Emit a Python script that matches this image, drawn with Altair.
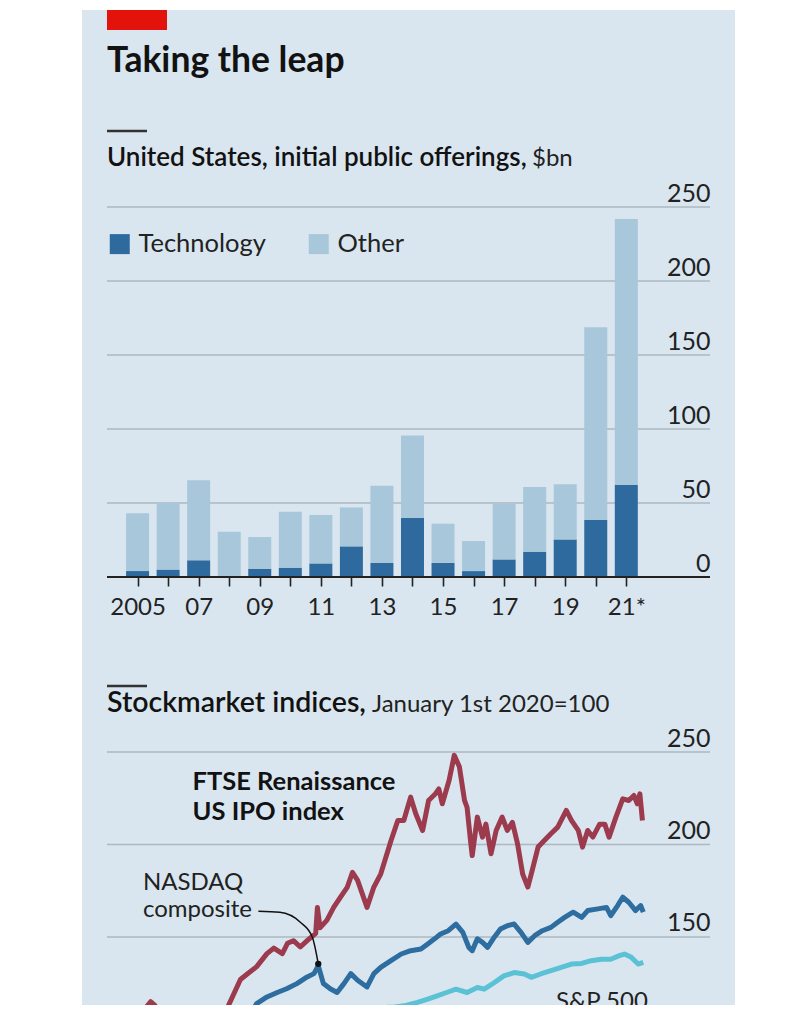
import altair as alt
import pandas as pd

FONT = "Lato"
BG = "#d9e6ef"
RED = "#e3120b"
TECH_C = "#2e6a9e"
OTHER_C = "#a9c7db"
GRID_C = "#adb8c0"
DARK = "#1a1a1a"
FTSE_C = "#9c3a4e"
NASDAQ_C = "#2e6da0"
SP_C = "#5bc2d6"

# ---------------- IPO data ($bn) ----------------
years = list(range(2005, 2022))
tech = [4.0, 5.0, 11.3, 0.7, 5.6, 6.3, 9.2, 20.7, 9.5, 40.0, 9.5, 4.0, 11.9, 17.1, 25.4, 38.5, 62.3]
other = [39.0, 45.0, 54.0, 29.9, 21.4, 37.8, 32.7, 26.3, 52.2, 55.6, 26.5, 20.3, 37.6, 43.7, 37.2, 130.3, 179.6]
year_labels = {2005: "2005", 2007: "07", 2009: "09", 2011: "11", 2013: "13",
               2015: "15", 2017: "17", 2019: "19", 2021: "21*"}
ipo_ticks = [0, 50, 100, 150, 200, 250]

# ---------------- Index data (Jan 1st 2020 = 100) ----------------
ftse_dates = ["2020-01-01", "2020-01-15", "2020-02-03", "2020-02-14", "2020-02-21", "2020-02-26", "2020-03-02",
              "2020-03-09", "2020-03-18", "2020-03-23", "2020-04-03", "2020-04-15", "2020-04-29", "2020-05-13",
              "2020-05-22", "2020-06-05", "2020-06-13", "2020-06-24", "2020-07-06", "2020-07-14", "2020-07-24",
              "2020-07-30", "2020-08-06", "2020-08-14", "2020-08-22", "2020-09-01", "2020-09-03", "2020-09-06",
              "2020-09-14", "2020-09-22", "2020-09-30", "2020-10-08", "2020-10-14", "2020-10-20", "2020-10-31",
              "2020-11-08", "2020-11-16", "2020-11-28", "2020-12-06", "2020-12-13", "2020-12-21", "2020-12-27",
              "2021-01-04", "2021-01-11", "2021-01-19", "2021-01-23", "2021-01-27", "2021-02-04", "2021-02-10",
              "2021-02-16", "2021-02-22", "2021-02-25", "2021-03-01", "2021-03-03", "2021-03-09", "2021-03-15",
              "2021-03-19", "2021-03-25", "2021-03-31", "2021-04-07", "2021-04-13", "2021-04-19", "2021-04-25",
              "2021-05-01", "2021-05-07", "2021-05-11", "2021-05-19", "2021-05-26", "2021-06-03", "2021-06-11",
              "2021-06-21", "2021-06-27", "2021-07-05", "2021-07-10", "2021-07-16", "2021-07-22", "2021-07-30",
              "2021-08-05", "2021-08-10", "2021-08-18", "2021-08-26", "2021-09-02", "2021-09-08", "2021-09-12",
              "2021-09-15", "2021-09-18"]
ftse_vals = [100, 104, 105, 111, 115, 113, 104,
             92, 76, 74, 80, 92, 100, 104,
             113, 127, 130, 134, 141, 144, 141,
             146.6, 148, 144.6, 148, 152, 166, 155,
             159, 166, 171.6, 177, 185, 180.6, 166,
             177, 184, 202, 213, 213, 225.6, 216.6,
             207.6, 223.8, 227.4, 230, 222, 234.7, 248.2,
             242, 223.8, 220, 202, 194, 214.8, 204,
             211, 195, 207.6, 214.8, 207.6, 212, 200.4,
             184, 177, 184, 198.6, 202, 205.8, 209.4,
             218.4, 213, 207.6, 198.6, 207.6, 204, 211,
             211, 204, 214.8, 224.7, 223.8, 226.5, 222,
             227.4, 213]

nasdaq_dates = ["2020-01-01", "2020-01-17", "2020-02-19", "2020-02-28", "2020-03-09", "2020-03-16", "2020-03-23",
                "2020-04-08", "2020-04-21", "2020-05-08", "2020-05-20", "2020-06-08", "2020-06-11", "2020-06-24",
                "2020-07-06", "2020-07-18", "2020-07-29", "2020-08-10", "2020-08-22", "2020-08-30", "2020-09-04",
                "2020-09-10", "2020-09-18", "2020-09-26", "2020-10-04", "2020-10-12", "2020-10-20", "2020-10-31",
                "2020-11-08", "2020-11-16", "2020-11-28", "2020-12-10", "2020-12-21", "2021-01-02", "2021-01-10",
                "2021-01-18", "2021-01-25", "2021-02-03", "2021-02-12", "2021-02-20", "2021-02-27", "2021-03-03",
                "2021-03-09", "2021-03-15", "2021-03-21", "2021-03-29", "2021-04-05", "2021-04-13", "2021-04-21",
                "2021-04-29", "2021-05-07", "2021-05-15", "2021-05-24", "2021-06-03", "2021-06-11", "2021-06-19",
                "2021-06-29", "2021-07-09", "2021-07-16", "2021-07-28", "2021-08-07", "2021-08-12", "2021-08-20",
                "2021-08-26", "2021-09-02", "2021-09-10", "2021-09-16", "2021-09-19"]
nasdaq_vals = [100, 104, 110.5, 99, 88, 78, 76.5,
               91, 93, 102, 105, 111, 104, 114,
               117.6, 120, 122, 124.8, 128.4, 130.2, 134.5,
               124.8, 122, 120, 124.8, 130.2, 126.6, 123,
               130.2, 133.6, 137.2, 140.8, 142.6, 143.5, 146.2,
               149, 151.6, 153.4, 157, 152.5, 144.4, 142.6,
               149, 147.1, 144.4, 150, 154.3, 156.1, 157,
               152.5, 147.1, 150.7, 153.4, 155.2, 158, 160.6,
               163.4, 160.6, 164.3, 165.2, 166, 161.5, 167,
               171.5, 168.8, 164.3, 167, 163.4]

sp_dates = ["2020-01-01", "2020-02-19", "2020-03-02", "2020-03-23", "2020-04-09", "2020-04-21", "2020-05-15",
            "2020-06-08", "2020-06-26", "2020-07-15", "2020-08-14", "2020-09-02", "2020-09-23", "2020-10-12",
            "2020-10-30", "2020-11-09", "2020-11-24", "2020-12-01", "2020-12-13", "2020-12-29", "2021-01-10",
            "2021-01-21", "2021-02-01", "2021-02-12", "2021-02-25", "2021-03-09", "2021-03-17", "2021-03-29",
            "2021-04-09", "2021-04-21", "2021-05-03", "2021-05-11", "2021-05-22", "2021-06-03", "2021-06-15",
            "2021-06-27", "2021-07-09", "2021-07-20", "2021-08-01", "2021-08-12", "2021-08-22", "2021-08-28",
            "2021-09-05", "2021-09-13", "2021-09-19"]
sp_vals = [100, 105, 95, 69, 86, 82, 89,
           99.6, 93, 99, 104.5, 110.5, 101.5, 108.5,
           101, 109, 112, 112, 112.8, 114.6, 116.4,
           118.2, 120, 121.8, 120, 122.7, 121.8, 125.4,
           129, 130.8, 130, 128.2, 130, 131.8, 133.6,
           135.4, 135.7, 137.2, 138, 138, 139.9, 140.8,
           139, 135.4, 136.3]

idx_ticks = [150, 200, 250]
idx_domain = [113.24, 250]
date_domain = ["2020-01-01", "2021-12-06"]

# connector from the "NASDAQ composite" label to the September 2020 peak
conn_dates = ["2020-06-26", "2020-07-21", "2020-08-14", "2020-08-28", "2020-09-04"]
conn_vals = [163.9, 163.4, 158, 150, 135.5]

W = 603
H1 = 370
H2 = 253

one = pd.DataFrame({"a": [0]})

# ================= Panel 1: IPOs =================
bars_df = pd.DataFrame({
    "year": years * 2,
    "category": ["Technology"] * len(years) + ["Other"] * len(years),
    "value": tech + other,
    "order": [0] * len(years) + [1] * len(years),
})

label_expr = " : ".join(f"datum.value == {y} ? '{t}'" for y, t in year_labels.items()) + " : ''"

y1_scale = alt.Scale(domain=[0, 250], nice=False, zero=True)
y1_axis = alt.Axis(orient="right", values=ipo_ticks, domain=False, ticks=False, tickSize=0, grid=False,
                   labelAlign="right", labelPadding=0, labelBaseline="alphabetic", labelOffset=-6,
                   labelFontSize=25, labelFont=FONT, labelColor="#222", title=None, zindex=1,
                   labelOverlap=False)
x1_scale = alt.Scale(domain=[2004.163, 2023.576], nice=False, zero=False)
x1_axis = alt.Axis(values=years, labelExpr=label_expr, domain=False, ticks=True, tickSize=9,
                   tickColor="#222", tickWidth=1.6, grid=False, labelPadding=9, labelFontSize=24,
                   labelFont=FONT, labelColor="#222", labelFlush=False, labelOverlap=False,
                   title=None, zindex=1)

bg1 = alt.Chart(one).mark_rect(color=BG).encode(
    x=alt.value(-25), x2=alt.value(628), y=alt.value(-197), y2=alt.value(433))
redbar = alt.Chart(one).mark_rect(color=RED).encode(
    x=alt.value(0), x2=alt.value(60), y=alt.value(-197), y2=alt.value(-177))
title = alt.Chart(one).mark_text(align="left", baseline="alphabetic", font=FONT, fontSize=35.5,
                                 fontWeight="bold", color="#121212").encode(
    x=alt.value(0), y=alt.value(-135), text=alt.value("Taking the leap"))
rule1 = alt.Chart(one).mark_rule(color="#333", strokeWidth=2.5).encode(
    x=alt.value(0), x2=alt.value(40), y=alt.value(-76))
sub1a = alt.Chart(one).mark_text(align="left", baseline="alphabetic", font=FONT, fontSize=26,
                                 fontWeight=600, color="#121212").encode(
    x=alt.value(0), y=alt.value(-41), text=alt.value("United States, initial public offerings,"))
sub1b = alt.Chart(one).mark_text(align="left", baseline="alphabetic", font=FONT, fontSize=24,
                                 fontWeight="normal", color="#222").encode(
    x=alt.value(425), y=alt.value(-41), text=alt.value("$bn"))

grid1 = alt.Chart(pd.DataFrame({"v": ipo_ticks[1:]})).mark_rule(color=GRID_C, strokeWidth=1.3).encode(
    y=alt.Y("v:Q", scale=y1_scale, axis=y1_axis), x=alt.value(0), x2=alt.value(W))

bars = alt.Chart(bars_df).mark_bar(size=23, orient="vertical").encode(
    x=alt.X("year:Q", scale=x1_scale, axis=x1_axis),
    y=alt.Y("value:Q", stack="zero", scale=y1_scale, axis=y1_axis),
    color=alt.Color("category:N",
                    scale=alt.Scale(domain=["Technology", "Other"], range=[TECH_C, OTHER_C]),
                    legend=alt.Legend(orient="none", legendX=0, legendY=24, direction="horizontal",
                                      title=None, symbolType="square", symbolSize=400,
                                      symbolStrokeWidth=0, symbolOpacity=1, labelFontSize=25.5,
                                      labelFont=FONT, labelColor="#222", labelOffset=6,
                                      columnPadding=40, zindex=1)),
    order=alt.Order("order:Q"),
)

base1 = alt.Chart(pd.DataFrame({"v": [0]})).mark_rule(color="#222", strokeWidth=2.2).encode(
    y=alt.Y("v:Q", scale=y1_scale, axis=y1_axis), x=alt.value(0), x2=alt.value(W))

panel1 = alt.layer(bg1, redbar, title, rule1, sub1a, sub1b, grid1, bars, base1).properties(
    width=W, height=H1)

# ================= Panel 2: indices =================
lines_df = pd.DataFrame({
    "date": sp_dates + nasdaq_dates + ftse_dates,
    "value": sp_vals + nasdaq_vals + ftse_vals,
    "series": ["S&P 500"] * len(sp_dates) + ["NASDAQ composite"] * len(nasdaq_dates)
              + ["FTSE Renaissance US IPO index"] * len(ftse_dates),
})

y2_scale = alt.Scale(domain=idx_domain, nice=False, zero=False)
y2_axis = alt.Axis(orient="right", values=idx_ticks, domain=False, ticks=False, tickSize=0, grid=False,
                   labelAlign="right", labelPadding=0, labelBaseline="alphabetic", labelOffset=-6,
                   labelFontSize=25, labelFont=FONT, labelColor="#222", title=None, zindex=1,
                   labelOverlap=False)
x2_scale = alt.Scale(domain=date_domain, nice=False)

bg2 = alt.Chart(one).mark_rect(color=BG).encode(
    x=alt.value(-25), x2=alt.value(628), y=alt.value(-112), y2=alt.value(H2))
rule2 = alt.Chart(one).mark_rule(color="#333", strokeWidth=2.5).encode(
    x=alt.value(0), x2=alt.value(40), y=alt.value(-66))
sub2a = alt.Chart(one).mark_text(align="left", baseline="alphabetic", font=FONT, fontSize=28.5,
                                 fontWeight=600, color="#121212").encode(
    x=alt.value(0), y=alt.value(-40), text=alt.value("Stockmarket indices,"))
sub2b = alt.Chart(one).mark_text(align="left", baseline="alphabetic", font=FONT, fontSize=24,
                                 fontWeight="normal", color="#222").encode(
    x=alt.value(265), y=alt.value(-40), text=alt.value("January 1st 2020=100"))

grid2 = alt.Chart(pd.DataFrame({"v": idx_ticks})).mark_rule(color=GRID_C, strokeWidth=1.3).encode(
    y=alt.Y("v:Q", scale=y2_scale, axis=y2_axis), x=alt.value(0), x2=alt.value(W))

lines = alt.Chart(lines_df).mark_line(strokeWidth=5, clip=True, strokeJoin="round").encode(
    x=alt.X("date:T", scale=x2_scale, axis=None),
    y=alt.Y("value:Q", scale=y2_scale, axis=y2_axis),
    color=alt.Color("series:N", legend=None,
                    scale=alt.Scale(domain=["S&P 500", "NASDAQ composite", "FTSE Renaissance US IPO index"],
                                    range=[SP_C, NASDAQ_C, FTSE_C])),
    detail="series:N",
)

conn_df = pd.DataFrame({"date": conn_dates, "value": conn_vals})
conn = alt.Chart(conn_df).mark_line(color="#111", strokeWidth=1.5, interpolate="monotone").encode(
    x=alt.X("date:T", scale=x2_scale, axis=None),
    y=alt.Y("value:Q", scale=y2_scale, axis=y2_axis))
dot = alt.Chart(conn_df.tail(1)).mark_point(filled=True, color="#111", size=40, opacity=1).encode(
    x=alt.X("date:T", scale=x2_scale, axis=None),
    y=alt.Y("value:Q", scale=y2_scale, axis=y2_axis))

bold_lab = pd.DataFrame({"date": ["2020-04-10", "2020-04-10"], "value": [229.3, 213.1],
                         "label": ["FTSE Renaissance", "US IPO index"]})
reg_lab = pd.DataFrame({"date": ["2020-02-12", "2020-02-12", "2021-06-09"], "value": [175.3, 160.7, 111.3],
                        "label": ["NASDAQ", "composite", "S&P 500"]})
blab = alt.Chart(bold_lab).mark_text(align="left", baseline="alphabetic", font=FONT, fontSize=25.5,
                                     fontWeight="bold", color="#121212").encode(
    x=alt.X("date:T", scale=x2_scale, axis=None),
    y=alt.Y("value:Q", scale=y2_scale, axis=y2_axis), text="label:N")
rlab = alt.Chart(reg_lab).mark_text(align="left", baseline="alphabetic", font=FONT, fontSize=24,
                                    color="#222", clip=True).encode(
    x=alt.X("date:T", scale=x2_scale, axis=None),
    y=alt.Y("value:Q", scale=y2_scale, axis=y2_axis), text="label:N")

panel2 = alt.layer(bg2, rule2, sub2a, sub2b, grid2, lines, conn, dot, blab, rlab).properties(
    width=W, height=H2)

chart = alt.vconcat(panel1, panel2, spacing=0).properties(
    background="white",
    padding={"left": 74, "top": 2, "right": 0, "bottom": 0},
).configure_view(stroke=None).resolve_scale(color="independent")

chart.save("out.html", embed_options={"renderer": "svg", "actions": False})
